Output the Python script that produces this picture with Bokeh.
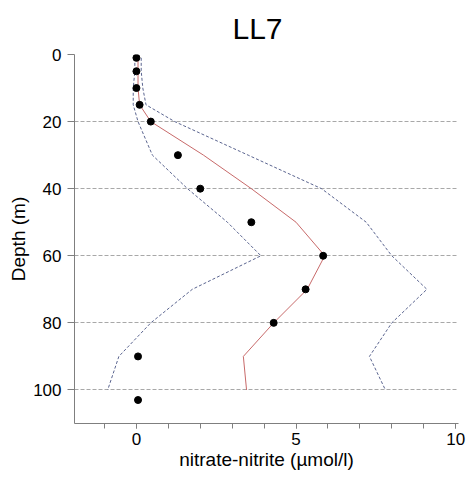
from bokeh.plotting import figure
from bokeh.models import Range1d, FixedTicker
from bokeh.embed import file_html
from bokeh.resources import INLINE

# data
dot_depth = [1, 5, 10, 15, 20, 30, 40, 50, 60, 70, 80, 90, 103]
dot_value = [0.0, 0.0, 0.0, 0.1, 0.45, 1.3, 2.0, 3.6, 5.85, 5.3, 4.3, 0.05, 0.05]

line_depth = [1, 5, 10, 15, 20, 30, 40, 50, 60, 70, 80, 90, 100]
mean_value = [0.05, 0.05, 0.05, 0.1, 0.45, 2.1, 3.6, 5.0, 5.9, 5.35, 4.3, 3.35, 3.45]
upper_value = [0.15, 0.15, 0.2, 0.3, 1.2, 3.5, 5.8, 7.2, 8.0, 9.1, 8.0, 7.3, 7.8]
lower_value = [-0.05, -0.05, -0.1, -0.1, 0.05, 0.5, 1.6, 2.85, 3.9, 1.75, 0.45, -0.55, -0.9]

x_major = [0, 5, 10]
x_minor = [-1, 0, 1, 2, 3, 4, 5, 6, 7, 8, 9, 10]
y_ticks = [0, 20, 40, 60, 80, 100]

FONT = "Liberation Sans"

p = figure(width=467, height=477, output_backend="svg", toolbar_location=None,
           x_range=Range1d(-1.94, 10.09), y_range=Range1d(110, 0),
           min_border_left=74, min_border_right=9, min_border_top=53, min_border_bottom=54)

p.title.text = "LL7"
p.title.align = "left"
p.title.offset = 158
p.title.text_font = FONT
p.title.text_font_size = "30px"
p.title.text_font_style = "normal"
p.title.text_color = "black"
p.title.standoff = 19

p.outline_line_color = None
p.xgrid.grid_line_color = None
p.ygrid.ticker = FixedTicker(ticks=y_ticks)
p.ygrid.grid_line_color = "#a8a8a8"
p.ygrid.grid_line_dash = "4 2"
p.ygrid.grid_line_width = 1

xa = p.xaxis[0]
xa.ticker = FixedTicker(ticks=x_major, minor_ticks=x_minor)
xa.axis_label = "nitrate-nitrite (\u00b5mol/l)"
ya = p.yaxis[0]
ya.ticker = FixedTicker(ticks=y_ticks)
ya.axis_label = "Depth (m)"

for ax in (xa, ya):
    ax.axis_line_color = "#7f7f7f"
    ax.major_tick_line_color = "#7f7f7f"
    ax.major_tick_in = 0
    ax.minor_tick_in = 0
    ax.major_label_text_font = FONT
    ax.major_label_text_font_size = "17px"
    ax.major_label_text_color = "black"
    ax.axis_label_text_font = FONT
    ax.axis_label_text_font_size = "19px"
    ax.axis_label_text_font_style = "normal"
    ax.axis_label_text_color = "black"
    ax.axis_label_standoff = 1

xa.minor_tick_line_color = "#7f7f7f"
ya.minor_tick_line_color = None
xa.major_tick_out = 5
xa.minor_tick_out = 5
xa.major_label_standoff = 4
ya.major_tick_out = 7
ya.major_label_standoff = 6

p.line(lower_value, line_depth, line_color="#5b6590", line_dash="3 2", line_width=1)
p.line(upper_value, line_depth, line_color="#5b6590", line_dash="3 2", line_width=1)
p.line(mean_value, line_depth, line_color="#c86a6a", line_width=1)
p.scatter(dot_value, dot_depth, size=7, color="black")

open("out.html", "w").write(file_html(p, INLINE))
